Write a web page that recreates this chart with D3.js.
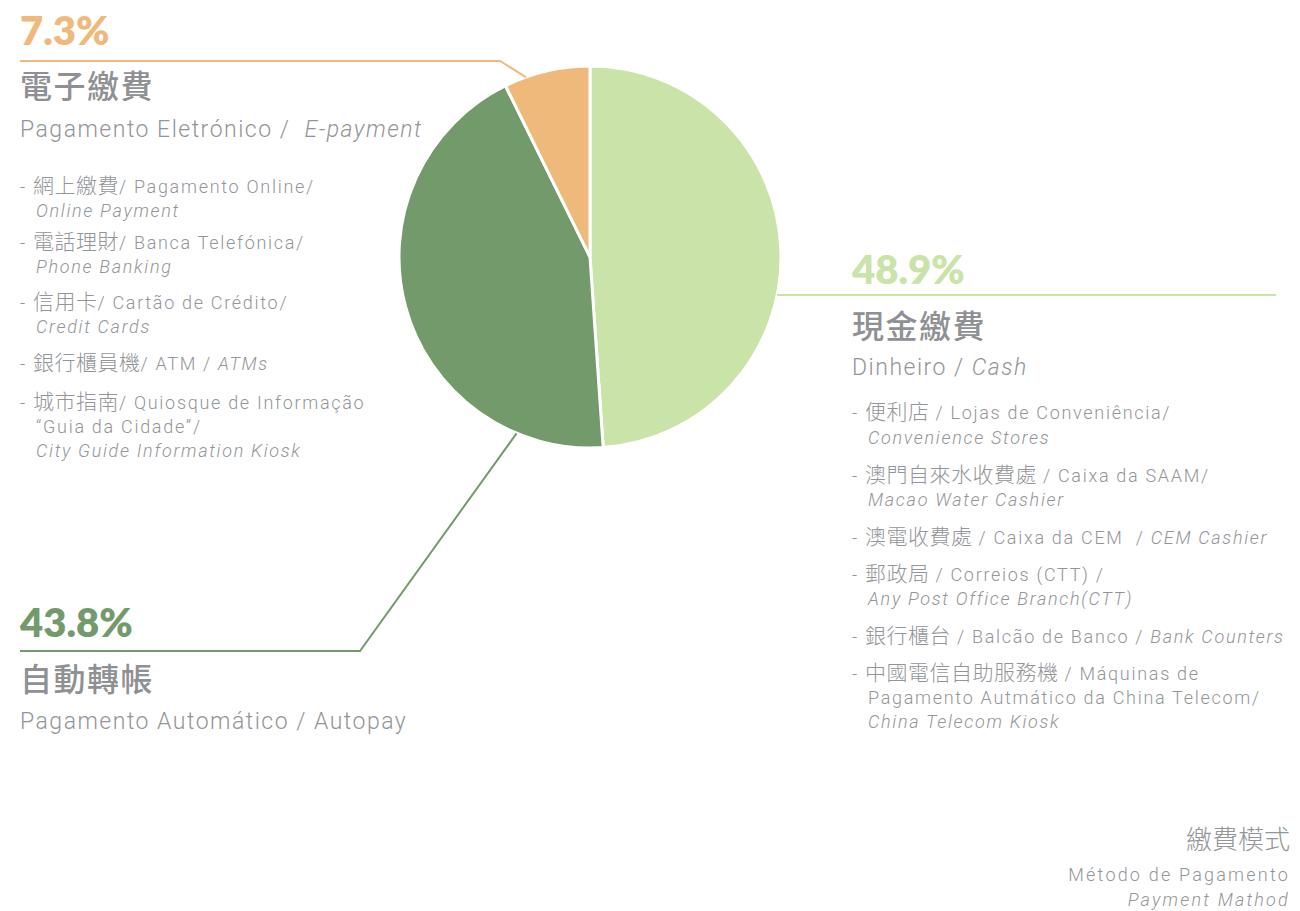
<!DOCTYPE html>
<html>
<head>
<meta charset="utf-8">
<script src="https://cdn.jsdelivr.net/npm/d3@7"></script>
<style>
  body { margin: 0; background: #fff; }
  text { font-family: Roboto, "Noto Sans CJK TC", sans-serif; }
  .pct { font-family: Lato, sans-serif; font-weight: 800; font-size: 40px; }
  .zh-title { font-family: "Noto Sans CJK TC", sans-serif; font-weight: 500; font-size: 32px; letter-spacing: 1.5px; fill: #8e9093; }
  .sub { font-weight: 300; font-size: 23px; letter-spacing: 1.5px; fill: #939598; }
  .item { font-weight: 300; font-size: 18px; letter-spacing: 1.7px; fill: #939598; }
  .zh { font-family: "Noto Sans CJK TC", sans-serif; font-size: 21px; letter-spacing: 0.5px; }
  .it { font-style: italic; }
</style>
</head>
<body>
<div id="chart"></div>
<script>
// slices, clockwise from 12 o'clock
const categories = ["cash", "autopay", "epay"];
const values = [48.9, 43.8, 7.3];
const pctLabels = ["48.9%", "43.8%", "7.3%"];
const zhTitles = ["現金繳費", "自動轉帳", "電子繳費"];
const subTitles = [
  [["Dinheiro / ", ""], ["Cash", "it"]],
  [["Pagamento Automático / Autopay", ""]],
  [["Pagamento Eletrónico /  ", ""], ["E-payment", "it"]]
];
const colors = ["#c9e3a9", "#739a6a", "#efb97b"];

// sub-items: each item = lines, each line = [text, style] segments
const cashItems = [
  [[["- ", ""], ["便利店", "zh"], [" / Lojas de Conveniência/", ""]], [["Convenience Stores", "it"]]],
  [[["- ", ""], ["澳門自來水收費處", "zh"], [" / Caixa da SAAM/", ""]], [["Macao Water Cashier", "it"]]],
  [[["- ", ""], ["澳電收費處", "zh"], [" / Caixa da CEM  / ", ""], ["CEM Cashier", "it"]]],
  [[["- ", ""], ["郵政局", "zh"], [" / Correios (CTT) /", ""]], [["Any Post Office Branch(CTT)", "it"]]],
  [[["- ", ""], ["銀行櫃台", "zh"], [" / Balcão de Banco / ", ""], ["Bank Counters", "it"]]],
  [[["- ", ""], ["中國電信自助服務機", "zh"], [" / Máquinas de", ""]], [["Pagamento Autmático da China Telecom/", ""]], [["China Telecom Kiosk", "it"]]]
];
const epayItems = [
  [[["- ", ""], ["網上繳費", "zh"], ["/ Pagamento Online/", ""]], [["Online Payment", "it"]]],
  [[["- ", ""], ["電話理財", "zh"], ["/ Banca Telefónica/", ""]], [["Phone Banking", "it"]]],
  [[["- ", ""], ["信用卡", "zh"], ["/ Cartão de Crédito/", ""]], [["Credit Cards", "it"]]],
  [[["- ", ""], ["銀行櫃員機", "zh"], ["/ ATM / ", ""], ["ATMs", "it"]]],
  [[["- ", ""], ["城市指南", "zh"], ["/ Quiosque de Informação", ""]], [["“Guia da Cidade”/", ""]], [["City Guide Information Kiosk", "it"]]]
];
const footer = ["繳費模式", "Método de Pagamento", "Payment Mathod"];

const width = 1300, height = 911;
const cx = 590, cy = 257, radius = 191;

// label placement for each slice
const layout = {
  cash:    { x: 852, pctY: 284, titleY: 338, subY: 375, anchor: 101.5, leader: [[1276, null]] },
  autopay: { x: 20,  pctY: 637, titleY: 691, subY: 729, anchor: 202.6, leader: [[360, 651], [20, 651]] },
  epay:    { x: 20,  pctY: 45,  titleY: 98,  subY: 137, anchor: 340.4, leader: [[500, 61], [20, 61]] }
};

const svg = d3.select("#chart").append("svg")
  .attr("width", width)
  .attr("height", height);

const pie = d3.pie().sort(null).value(d => d)(values);
const arc = d3.arc().innerRadius(0).outerRadius(radius);

const g = svg.append("g").attr("transform", `translate(${cx},${cy})`);
g.selectAll("path")
  .data(pie)
  .enter()
  .append("path")
  .attr("d", arc)
  .attr("fill", (d, i) => colors[i])
  .attr("stroke", "#fff")
  .attr("stroke-width", 3);

const line = d3.line();
categories.forEach((c, i) => {
  const L = layout[c];
  const a = L.anchor * Math.PI / 180;
  const p0 = [cx + radius * Math.sin(a), cy - radius * Math.cos(a)];
  const pts = [p0].concat(L.leader.map(p => [p[0], p[1] == null ? p0[1] : p[1]]));
  svg.append("path")
    .attr("d", line(pts))
    .attr("fill", "none")
    .attr("stroke", colors[i])
    .attr("stroke-width", 2);

  svg.append("text").attr("class", "pct")
    .attr("x", L.x).attr("y", L.pctY)
    .attr("fill", colors[i])
    .text(pctLabels[i]);
  svg.append("text").attr("class", "zh-title")
    .attr("x", L.x).attr("y", L.titleY)
    .text(zhTitles[i]);
  const st = svg.append("text").attr("class", "sub")
    .attr("x", L.x).attr("y", L.subY)
    .attr("xml:space", "preserve");
  subTitles[i].forEach(s => st.append("tspan").attr("class", s[1]).text(s[0]));
});

function drawItems(items, x, baselines) {
  let k = 0;
  items.forEach(item => {
    item.forEach((ln, j) => {
      const t = svg.append("text").attr("class", "item")
        .attr("x", j === 0 ? x : x + 16)
        .attr("y", baselines[k++])
        .attr("xml:space", "preserve");
      ln.forEach(s => t.append("tspan").attr("class", s[1]).text(s[0]));
    });
  });
}

drawItems(epayItems, 20, [193, 217, 249, 273, 309, 333, 370, 409, 433, 457]);
drawItems(cashItems, 852, [419, 444, 482, 506, 544, 581, 605, 643, 680, 704, 728]);

const f = svg.append("g").attr("text-anchor", "end");
f.append("text").attr("class", "zh").attr("x", 1290).attr("y", 849)
  .attr("fill", "#939598").style("font-size", "26px").style("font-weight", 300).style("letter-spacing", "0px").text(footer[0]);
f.append("text").attr("x", 1290).attr("y", 881)
  .attr("fill", "#939598").style("font-size", "18px").style("font-weight", 300).style("letter-spacing", "2.2px").text(footer[1]);
f.append("text").attr("class", "it").attr("x", 1290).attr("y", 906)
  .attr("fill", "#939598").style("font-size", "18px").style("font-weight", 300).style("letter-spacing", "2.2px").text(footer[2]);
</script>
</body>
</html>
